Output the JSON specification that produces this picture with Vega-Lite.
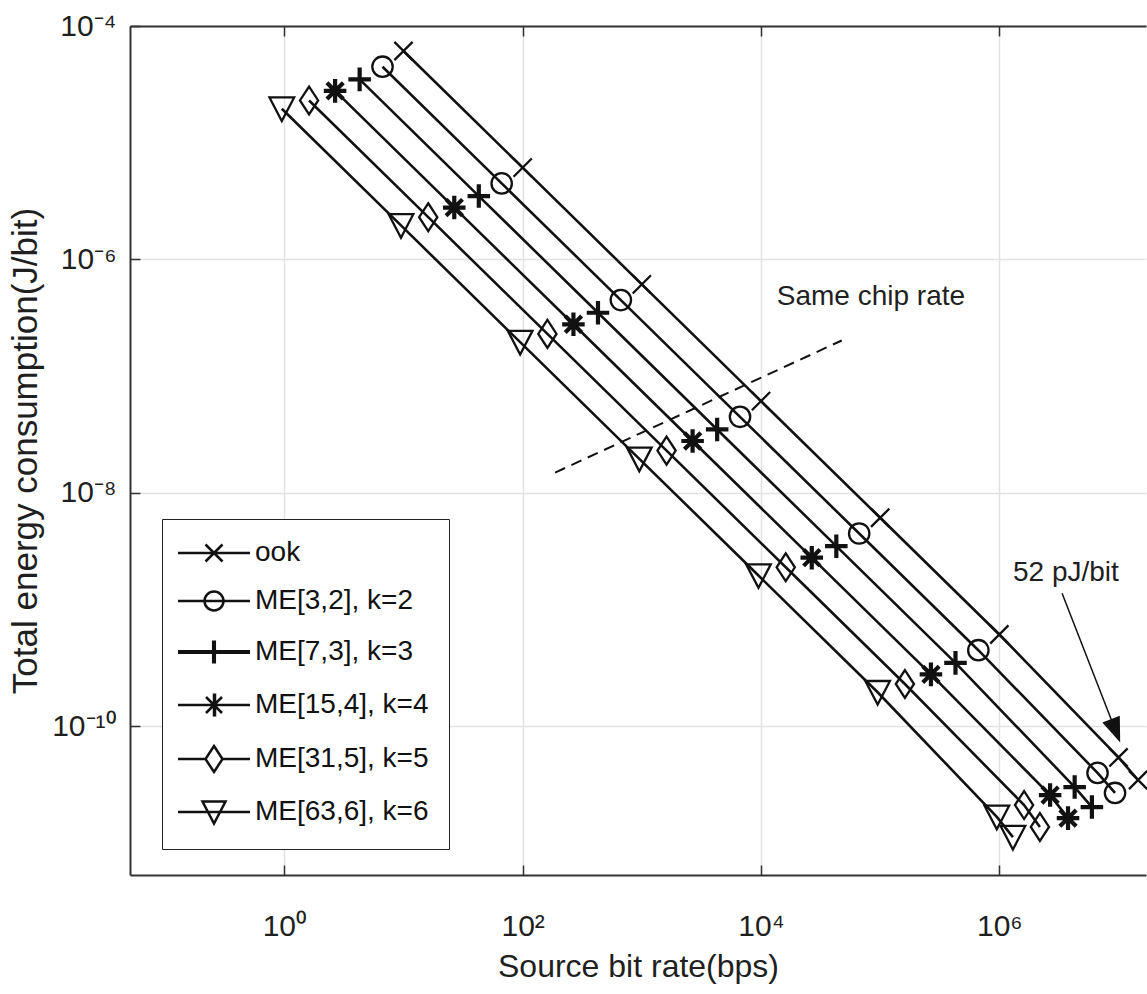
{
  "$schema": "https://vega.github.io/schema/vega-lite/v6.json",
  "width": 1016,
  "height": 849,
  "autosize": {"type": "none"},
  "padding": {"left": 130, "top": 26, "right": 1, "bottom": 119},
  "background": "white",
  "config": {
    "font": "Liberation Sans",
    "view": {"stroke": null},
    "axis": {
      "labelFont": "Liberation Sans",
      "titleFont": "Liberation Sans",
      "labelColor": "#1f1f1f",
      "titleColor": "#1f1f1f",
      "titleFontWeight": "normal",
      "domainColor": "#333333",
      "domainWidth": 2,
      "tickColor": "#333333",
      "tickWidth": 1.5,
      "tickSize": -10,
      "gridColor": "#e2e2e2",
      "gridWidth": 1.5,
      "labelFlush": false,
      "labelOverlap": false
    },
    "legend": {
      "labelFont": "Liberation Sans"
    }
  },
  "datasets": {
    "curves": [
      {"series": "s1", "rate": 10, "energy": 6.11e-5},
      {"series": "s1", "rate": 100, "energy": 6.11e-6},
      {"series": "s1", "rate": 1000, "energy": 6.11e-7},
      {"series": "s1", "rate": 10000, "energy": 6.11e-8},
      {"series": "s1", "rate": 100000, "energy": 6.11e-9},
      {"series": "s1", "rate": 1000000, "energy": 6.11e-10},
      {"series": "s1", "rate": 10000000, "energy": 5.4e-11},
      {"series": "s1", "rate": 14600000, "energy": 3.46e-11},
      {"series": "s2", "rate": 6.667, "energy": 4.48e-5},
      {"series": "s2", "rate": 66.67, "energy": 4.48e-6},
      {"series": "s2", "rate": 666.7, "energy": 4.48e-7},
      {"series": "s2", "rate": 6667, "energy": 4.48e-8},
      {"series": "s2", "rate": 66670, "energy": 4.48e-9},
      {"series": "s2", "rate": 666700, "energy": 4.48e-10},
      {"series": "s2", "rate": 6667000, "energy": 3.98e-11},
      {"series": "s2", "rate": 9350000, "energy": 2.68e-11},
      {"series": "s3", "rate": 4.286, "energy": 3.49e-5},
      {"series": "s3", "rate": 42.86, "energy": 3.49e-6},
      {"series": "s3", "rate": 428.6, "energy": 3.49e-7},
      {"series": "s3", "rate": 4286, "energy": 3.49e-8},
      {"series": "s3", "rate": 42860, "energy": 3.49e-9},
      {"series": "s3", "rate": 428600, "energy": 3.49e-10},
      {"series": "s3", "rate": 4286000, "energy": 3.01e-11},
      {"series": "s3", "rate": 5980000, "energy": 2.03e-11},
      {"series": "s4", "rate": 2.667, "energy": 2.78e-5},
      {"series": "s4", "rate": 26.67, "energy": 2.78e-6},
      {"series": "s4", "rate": 266.7, "energy": 2.78e-7},
      {"series": "s4", "rate": 2667, "energy": 2.78e-8},
      {"series": "s4", "rate": 26670, "energy": 2.78e-9},
      {"series": "s4", "rate": 266700, "energy": 2.78e-10},
      {"series": "s4", "rate": 2667000, "energy": 2.57e-11},
      {"series": "s4", "rate": 3770000, "energy": 1.63e-11},
      {"series": "s5", "rate": 1.613, "energy": 2.3e-5},
      {"series": "s5", "rate": 16.13, "energy": 2.3e-6},
      {"series": "s5", "rate": 161.3, "energy": 2.3e-7},
      {"series": "s5", "rate": 1613, "energy": 2.3e-8},
      {"series": "s5", "rate": 16130, "energy": 2.3e-9},
      {"series": "s5", "rate": 161300, "energy": 2.3e-10},
      {"series": "s5", "rate": 1613000, "energy": 2.11e-11},
      {"series": "s5", "rate": 2190000, "energy": 1.37e-11},
      {"series": "s6", "rate": 0.9524, "energy": 1.955e-5},
      {"series": "s6", "rate": 9.524, "energy": 1.955e-6},
      {"series": "s6", "rate": 95.24, "energy": 1.955e-7},
      {"series": "s6", "rate": 952.4, "energy": 1.955e-8},
      {"series": "s6", "rate": 9524, "energy": 1.955e-9},
      {"series": "s6", "rate": 95240, "energy": 1.955e-10},
      {"series": "s6", "rate": 952400, "energy": 1.67e-11},
      {"series": "s6", "rate": 1300000, "energy": 1.12e-11}
    ],
    "dash": [
      {"xa": 187, "ya": 1.49e-8, "xb": 47600, "yb": 2.02e-7}
    ],
    "arrow": [
      {"xa": 3360000, "ya": 1.38e-9, "xb": 9460000, "yb": 9.14e-11}
    ],
    "notes": [
      {"label": "Same chip rate", "px": 83600, "py": 4.72e-7},
      {"label": "52 pJ/bit", "px": 3620000, "py": 2.06e-9}
    ]
  },
  "resolve": {"axis": {"x": "independent"}, "scale": {"shape": "independent"}},
  "layer": [
    {
      "data": {"name": "curves"},
      "mark": {"type": "line", "stroke": "#111111", "strokeWidth": 2.6, "clip": true},
      "encoding": {
        "x": {
          "field": "rate", "type": "quantitative",
          "scale": {"type": "log", "domain": [0.0507, 17010000]},
          "axis": {
            "orient": "bottom",
            "values": [1, 100, 10000, 1000000],
            "labelExpr": "datum.value < 10 ? '10⁰' : datum.value < 1000 ? '10²' : datum.value < 100000 ? '10⁴' : '10⁶'",
            "labelFontSize": 30,
            "labelPadding": 46,
            "labelBaseline": "top",
            "title": "Source bit rate(bps)",
            "titleFontSize": 32,
            "titlePadding": 10,
            "grid": true
          }
        },
        "y": {
          "field": "energy", "type": "quantitative",
          "scale": {"type": "log", "domain": [5.31e-12, 0.0001]},
          "axis": {
            "values": [0.0001, 0.000001, 0.00000001, 0.0000000001],
            "labelExpr": "datum.value > 0.00001 ? '10⁻⁴' : datum.value > 0.0000001 ? '10⁻⁶' : datum.value > 0.000000001 ? '10⁻⁸' : '10⁻¹⁰'",
            "labelFontSize": 30,
            "labelPadding": 24,
            "title": "Total energy consumption(J/bit)",
            "titleFontSize": 35,
            "titlePadding": 8,
            "grid": true
          }
        },
        "detail": {"field": "series", "type": "nominal"}
      }
    },
    {
      "data": {"name": "curves"},
      "transform": [{"filter": {"field": "series", "oneOf": ["s1", "s2", "s5", "s6"]}}],
      "mark": {"type": "point", "filled": false, "stroke": "#111111", "strokeWidth": 2.3, "size": 460, "opacity": 1},
      "encoding": {
        "x": {"field": "rate", "type": "quantitative", "scale": {"type": "log", "domain": [0.0507, 17010000]}, "axis": null},
        "y": {"field": "energy", "type": "quantitative", "scale": {"type": "log", "domain": [5.31e-12, 0.0001]}},
        "shape": {
          "field": "series", "type": "nominal", "legend": null,
          "scale": {
            "domain": ["s1", "s2", "s5", "s6"],
            "range": [
              "M-0.85,-0.85L0.85,0.85M-0.85,0.85L0.85,-0.85",
              "M-0.95,0A0.95,0.95 0 1,0 0.95,0A0.95,0.95 0 1,0 -0.95,0Z",
              "M0,-1.3L0.85,0L0,1.3L-0.85,0Z",
              "M-1.15,-1.05L1.15,-1.05L0,1.15Z"
            ]
          }
        }
      }
    },
    {
      "data": {"name": "curves"},
      "transform": [{"filter": {"field": "series", "oneOf": ["s3", "s4"]}}],
      "mark": {"type": "point", "filled": false, "stroke": "#111111", "strokeWidth": 4.2, "size": 420, "opacity": 1},
      "encoding": {
        "x": {"field": "rate", "type": "quantitative", "scale": {"type": "log", "domain": [0.0507, 17010000]}, "axis": null},
        "y": {"field": "energy", "type": "quantitative", "scale": {"type": "log", "domain": [5.31e-12, 0.0001]}},
        "shape": {
          "field": "series", "type": "nominal", "legend": null,
          "scale": {
            "domain": ["s3", "s4"],
            "range": [
              "M-1.1,0L1.1,0M0,-1.15L0,1.15",
              "M-1.1,0L1.1,0M0,-1.15L0,1.15M-0.8,-0.8L0.8,0.8M-0.8,0.8L0.8,-0.8"
            ]
          }
        }
      }
    },
    {
      "data": {"name": "curves"},
      "mark": {"type": "point", "filled": false, "stroke": "#111111", "strokeWidth": 2.5, "size": 400, "opacity": 0},
      "encoding": {
        "x": {
          "field": "rate", "type": "quantitative",
          "scale": {"type": "log", "domain": [0.0507, 17010000]},
          "axis": {"orient": "top", "values": [1, 100, 10000, 1000000], "labels": false, "title": null, "grid": false}
        },
        "y": {"field": "energy", "type": "quantitative", "scale": {"type": "log", "domain": [5.31e-12, 0.0001]}},
        "shape": {
          "field": "series", "type": "nominal",
          "scale": {
            "domain": ["s1", "s2", "s3", "s4", "s5", "s6"],
            "range": [
              "M-3.6,0L3.6,0M-0.85,-0.85L0.85,0.85M-0.85,0.85L0.85,-0.85",
              "M-3.6,0L3.6,0M-0.95,0A0.95,0.95 0 1,0 0.95,0A0.95,0.95 0 1,0 -0.95,0Z",
              "M-3.6,-0.08L3.6,-0.08M-3.6,0.08L3.6,0.08M-0.08,-1.15L-0.08,1.15M0.08,-1.15L0.08,1.15",
              "M-3.6,0L3.6,0M0,-1.15L0,1.15M-0.8,-0.8L0.8,0.8M-0.8,0.8L0.8,-0.8M0.1,-1.15L0.1,1.15",
              "M-3.6,0L-0.85,0M0.85,0L3.6,0M0,-1.3L0.85,0L0,1.3L-0.85,0Z",
              "M-3.6,0L3.6,0M-1.15,-1.05L1.15,-1.05L0,1.15Z"
            ]
          },
          "legend": {
            "orient": "none",
            "legendX": 32,
            "legendY": 493,
            "title": null,
            "padding": 20,
            "strokeColor": "#222222",
            "fillColor": "white",
            "cornerRadius": 0,
            "symbolSize": 400,
            "symbolStrokeWidth": 2.5,
            "symbolStrokeColor": "#111111",
            "symbolOpacity": 1,
            "symbolOffset": 18,
            "labelOffset": 27,
            "labelFontSize": 28,
            "labelColor": "#111111",
            "labelLimit": 0,
            "rowPadding": 19,
            "labelExpr": "datum.label == 's1' ? 'ook' : datum.label == 's2' ? 'ME[3,2], k=2' : datum.label == 's3' ? 'ME[7,3], k=3' : datum.label == 's4' ? 'ME[15,4], k=4' : datum.label == 's5' ? 'ME[31,5], k=5' : 'ME[63,6], k=6'"
          }
        }
      }
    },
    {
      "data": {"name": "dash"},
      "mark": {"type": "rule", "stroke": "#111111", "strokeWidth": 2, "strokeDash": [11, 7]},
      "encoding": {
        "x": {"field": "xa", "type": "quantitative", "scale": {"type": "log", "domain": [0.0507, 17010000]}, "axis": null},
        "y": {"field": "ya", "type": "quantitative", "scale": {"type": "log", "domain": [5.31e-12, 0.0001]}},
        "x2": {"field": "xb"},
        "y2": {"field": "yb"}
      }
    },
    {
      "data": {"name": "arrow"},
      "mark": {"type": "rule", "stroke": "#111111", "strokeWidth": 1.5},
      "encoding": {
        "x": {"field": "xa", "type": "quantitative", "scale": {"type": "log", "domain": [0.0507, 17010000]}, "axis": null},
        "y": {"field": "ya", "type": "quantitative", "scale": {"type": "log", "domain": [5.31e-12, 0.0001]}},
        "x2": {"field": "xb"},
        "y2": {"field": "yb"}
      }
    },
    {
      "data": {"name": "arrow"},
      "mark": {"type": "point", "filled": true, "fill": "#111111", "strokeWidth": 0, "size": 625, "opacity": 1, "angle": 338.6, "shape": "M-0.75,-1L0.75,-1L0,1Z"},
      "encoding": {
        "x": {"field": "xb", "type": "quantitative", "scale": {"type": "log", "domain": [0.0507, 17010000]}, "axis": null},
        "y": {"field": "yb", "type": "quantitative", "scale": {"type": "log", "domain": [5.31e-12, 0.0001]}}
      }
    },
    {
      "data": {"name": "notes"},
      "mark": {"type": "text", "fontSize": 28, "font": "Liberation Sans", "color": "#1f1f1f", "align": "center", "baseline": "middle"},
      "encoding": {
        "x": {"field": "px", "type": "quantitative", "scale": {"type": "log", "domain": [0.0507, 17010000]}, "axis": null},
        "y": {"field": "py", "type": "quantitative", "scale": {"type": "log", "domain": [5.31e-12, 0.0001]}},
        "text": {"field": "label"}
      }
    }
  ]
}
